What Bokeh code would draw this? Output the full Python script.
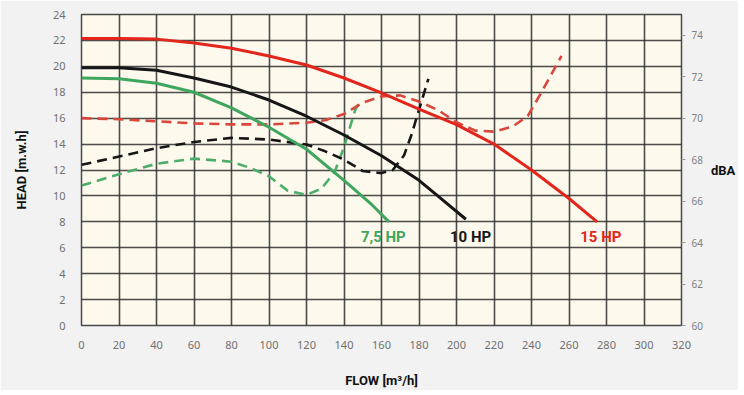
from bokeh.plotting import figure
from bokeh.models import Range1d, LinearAxis, SingleIntervalTicker, ColumnDataSource
from bokeh.core.properties import value
from bokeh.embed import file_html
from bokeh.resources import INLINE

# Pump head curves (flow m3/h -> head m.w.h)
flow_15 = [0, 20, 40, 60, 80, 100, 120, 140, 160, 180, 200, 220, 240, 260, 275]
head_15 = [22.15, 22.15, 22.1, 21.8, 21.4, 20.8, 20.1, 19.1, 17.95, 16.7, 15.5, 14.0, 12.0, 9.8, 8.0]

flow_10 = [0, 20, 40, 60, 80, 100, 120, 140, 160, 180, 190, 205]
head_10 = [19.9, 19.9, 19.7, 19.1, 18.4, 17.4, 16.15, 14.7, 13.1, 11.2, 10.0, 8.2]

flow_75 = [0, 20, 40, 60, 80, 100, 120, 140, 155, 164]
head_75 = [19.1, 19.05, 18.7, 18.0, 16.8, 15.3, 13.6, 11.2, 9.3, 8.0]

# Noise curves (flow m3/h -> dBA)
nflow_15 = [0, 20, 40, 60, 80, 100, 120, 130, 140, 150, 160, 170, 180, 190, 200, 210, 220, 230, 238, 245, 256]
dba_15 = [70.0, 69.95, 69.85, 69.75, 69.7, 69.7, 69.78, 69.9, 70.2, 70.75, 71.05, 71.1, 70.8, 70.4, 69.8, 69.4, 69.35, 69.6, 70.1, 71.2, 73.0]

nflow_10 = [0, 20, 40, 60, 80, 100, 120, 130, 140, 150, 160, 166, 172, 176, 180, 185]
dba_10 = [67.75, 68.15, 68.55, 68.85, 69.05, 68.97, 68.73, 68.4, 68.0, 67.45, 67.35, 67.5, 68.2, 69.2, 70.4, 71.9]

nflow_75 = [0, 20, 40, 60, 80, 90, 100, 110, 120, 128, 135, 140, 146, 149]
dba_75 = [66.75, 67.3, 67.8, 68.05, 67.9, 67.6, 67.2, 66.5, 66.3, 66.6, 67.4, 68.6, 70.4, 70.9]

labels = ["7,5 HP", "10 HP", "15 HP"]

RED = "#E3261C"
RED_D = "#D8473C"
GREEN = "#3FA65E"
GREEN_D = "#4DAE6C"
BLACK = "#161616"
LABEL_FONT = "Roboto"

p = figure(frame_width=600, frame_height=311, output_backend="svg", toolbar_location=None,
           x_range=Range1d(0, 320), y_range=Range1d(0, 24),
           min_border_left=81, min_border_right=53, min_border_top=14, min_border_bottom=61)
p.extra_y_ranges = {"dba": Range1d(60, 75)}

p.background_fill_color = "#FDF9EC"
p.border_fill_color = "#F2F2F2"
p.outline_line_color = "#4a4a4a"
p.outline_line_width = 1.5

for ax in (p.xaxis[0], p.yaxis[0]):
    ax.axis_line_color = None
    ax.major_tick_line_color = None
    ax.minor_tick_line_color = None
    ax.major_label_text_color = "#707070"
    ax.major_label_text_font = "Noto Sans"
    ax.major_label_text_font_size = "11px"
    ax.axis_label_text_font = LABEL_FONT
    ax.axis_label_text_font_style = "bold"
    ax.axis_label_text_font_size = "13px"
    ax.axis_label_text_color = "#111111"

p.xaxis.ticker = SingleIntervalTicker(interval=20)
p.yaxis.ticker = SingleIntervalTicker(interval=2)
p.xaxis.axis_label = "FLOW [m³/h]"
p.yaxis.axis_label = "HEAD [m.w.h]"
p.xaxis.major_label_standoff = 9
p.xaxis.axis_label_standoff = 21
p.yaxis.major_label_standoff = 10
p.yaxis.axis_label_standoff = 21

right = LinearAxis(y_range_name="dba", ticker=SingleIntervalTicker(interval=2),
                   axis_label="dBA", axis_label_orientation="horizontal")
right.axis_line_color = None
right.major_tick_line_color = "#9a9a9a"
right.major_tick_out = 4
right.major_tick_in = 0
right.minor_tick_line_color = None
right.major_label_text_color = "#808080"
right.major_label_text_font = "Noto Sans"
right.major_label_text_font_size = "10px"
right.major_label_standoff = 6
right.axis_label_standoff = 5
right.axis_label_text_font = LABEL_FONT
right.axis_label_text_font_style = "bold"
right.axis_label_text_font_size = "13px"
right.axis_label_text_color = "#111111"
p.add_layout(right, "right")

p.xgrid.ticker = SingleIntervalTicker(interval=20)
p.ygrid.ticker = SingleIntervalTicker(interval=2)
for g in (p.xgrid[0], p.ygrid[0]):
    g.grid_line_color = "#2e2e2e"
    g.grid_line_alpha = 0.85
    g.grid_line_width = 1.6

# dashed noise curves
p.line(nflow_75, dba_75, y_range_name="dba", line_color=GREEN_D, line_width=2.6, line_dash="10 6")
p.line(nflow_10, dba_10, y_range_name="dba", line_color=BLACK, line_width=2.6, line_dash="10 6")
p.line(nflow_15, dba_15, y_range_name="dba", line_color=RED_D, line_width=2.6, line_dash="10 6")

# solid head curves
p.line(flow_75, head_75, line_color=GREEN, line_width=3)
p.line(flow_10, head_10, line_color=BLACK, line_width=3)
p.line(flow_15, head_15, line_color=RED, line_width=3)

lab_src = ColumnDataSource(dict(x=[149.0, 196.5, 266.0], y=[6.8, 6.8, 6.8],
                                t=labels, c=[GREEN, BLACK, RED]))
p.text(x="x", y="y", text="t", text_color="c", source=lab_src,
       text_font=value(LABEL_FONT), text_font_style="bold",
       text_font_size="15px", text_align="left", text_baseline="middle")

open("out.html", "w").write(file_html(p, INLINE))
